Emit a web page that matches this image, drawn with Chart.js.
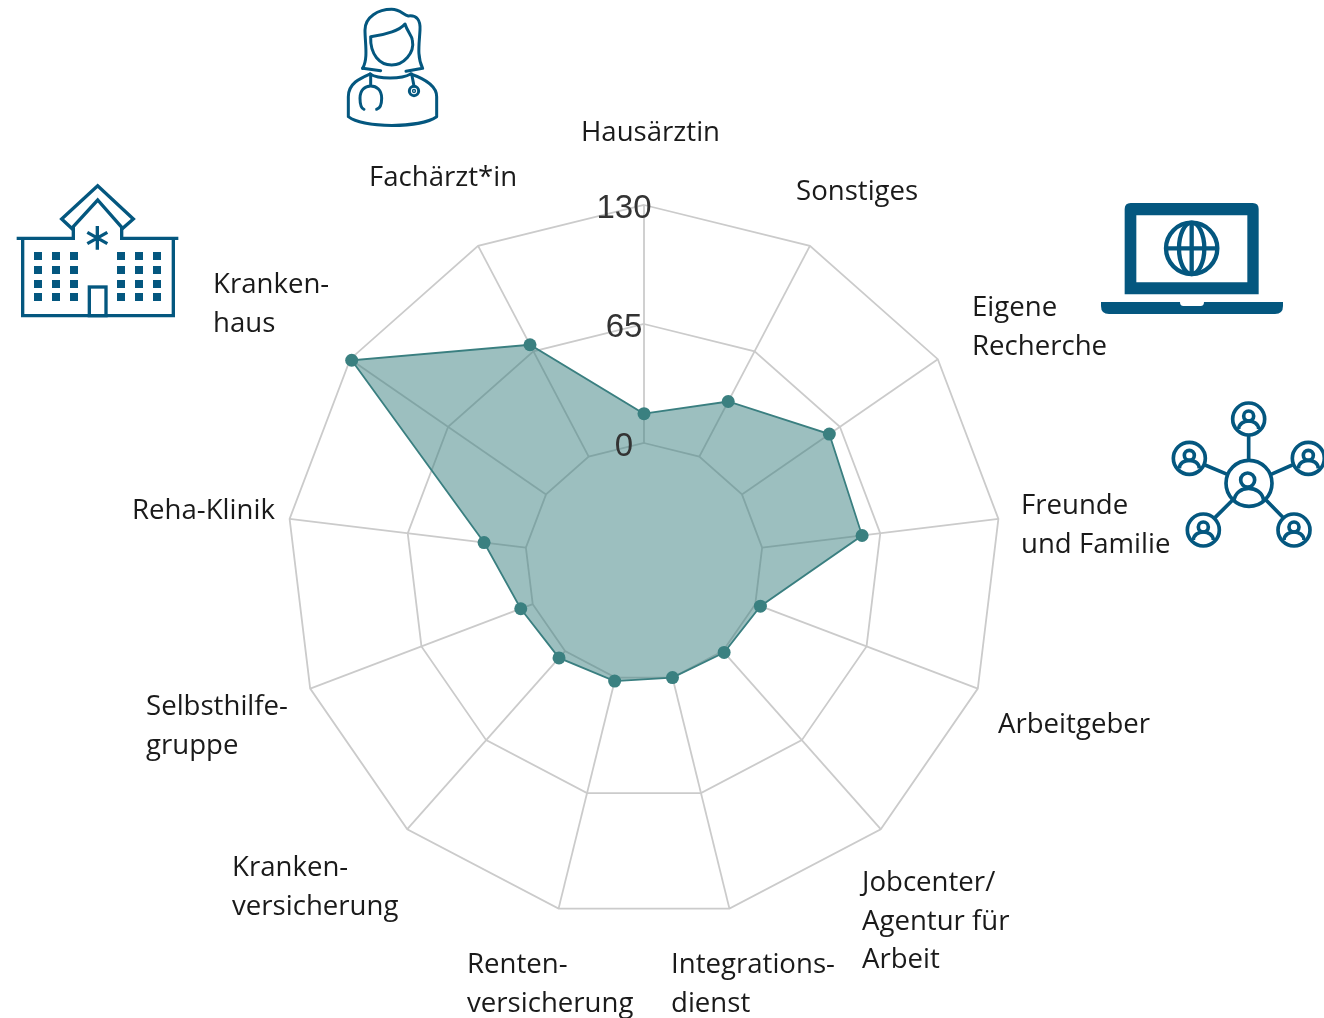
<!DOCTYPE html>
<html lang="de"><head><meta charset="utf-8">
<script src="https://cdn.jsdelivr.net/npm/chart.js@4/dist/chart.umd.min.js"></script>
<style>
html,body{margin:0;padding:0;background:#fff;width:1324px;height:1018px;overflow:hidden}
#wrap{position:relative;width:1324px;height:1018px}
canvas{position:absolute;left:0;top:0}
.lbl{position:absolute;font-family:"Open Sans",sans-serif;font-size:27.6px;line-height:38.5px;color:#1a1a1a;white-space:pre}
svg{position:absolute;overflow:visible}
</style></head><body>
<div id="wrap">
<canvas id="c" width="1324" height="1018"></canvas>

<svg style="left:320px;top:0" width="140" height="135" viewBox="0 0 420 405" fill="none" stroke="#04577f" stroke-width="9" stroke-linecap="round" stroke-linejoin="round">
<path d="M128 205C145 175 135 130 135 90C135 50 175 28 215 28C240 28 250 45 265 48C290 45 302 60 300 90C298 130 290 170 308 205L258 214"/>
<path d="M128 205L182 212"/>
<path d="M152 110C200 105 240 90 255 72C262 95 275 105 277 120C285 160 250 195 215 195C180 195 150 165 152 110Z"/>
<path d="M150 222C175 238 245 238 272 222"/>
<path d="M150 222C120 235 85 250 85 290L85 350C130 385 300 385 350 350L350 290C350 255 310 235 272 222"/>
<path d="M152 222L152 258M132 328C122 325 120 310 120 295C120 270 135 258 152 258C170 258 185 270 185 295C185 310 183 325 170 328"/>
<path d="M275 222L282 258"/><circle cx="282" cy="273" r="14"/><circle cx="282" cy="273" r="2"/>
</svg>

<svg style="left:0;top:175px" width="190" height="150" viewBox="0 0 570 450" fill="none" stroke="#04577f" stroke-width="10">
<path d="M185 132L293 32L400 132L368 160L293 75L215 160Z"/>
<path d="M220 155V190H50M365 155V190H535"/>
<path d="M68 190V422H520V190"/>
<rect x="268" y="336" width="50" height="86"/>
<path d="M292 153V224M262 172L322 206M322 172L262 206"/>
<g fill="#04577f" stroke="none">
<rect x="102" y="231" width="24" height="24"/><rect x="156" y="231" width="24" height="24"/><rect x="210" y="231" width="24" height="24"/><rect x="351" y="231" width="24" height="24"/><rect x="405" y="231" width="24" height="24"/><rect x="459" y="231" width="24" height="24"/>
<rect x="102" y="273" width="24" height="24"/><rect x="156" y="273" width="24" height="24"/><rect x="210" y="273" width="24" height="24"/><rect x="351" y="273" width="24" height="24"/><rect x="405" y="273" width="24" height="24"/><rect x="459" y="273" width="24" height="24"/>
<rect x="102" y="315" width="24" height="24"/><rect x="156" y="315" width="24" height="24"/><rect x="210" y="315" width="24" height="24"/><rect x="351" y="315" width="24" height="24"/><rect x="405" y="315" width="24" height="24"/><rect x="459" y="315" width="24" height="24"/>
<rect x="102" y="354" width="24" height="24"/><rect x="156" y="354" width="24" height="24"/><rect x="210" y="354" width="24" height="24"/><rect x="351" y="354" width="24" height="24"/><rect x="405" y="354" width="24" height="24"/><rect x="459" y="354" width="24" height="24"/>
</g>
</svg>

<svg style="left:1090px;top:195px" width="200" height="130" viewBox="0 0 600 390">
<path fill="#04577f" fill-rule="evenodd" d="M122 24H488Q506 24 506 42V298H104V42Q104 24 122 24ZM139 61V262H472V61Z"/>
<path fill="#04577f" d="M33 321H270Q270 333 280 333H332Q342 333 342 321H579V333Q579 357 555 357H57Q33 357 33 333Z"/>
<g fill="none" stroke="#04577f" stroke-width="13">
<circle cx="305" cy="160" r="77"/><ellipse cx="305" cy="160" rx="38" ry="77"/><path d="M305 83V237M228 160H382"/>
</g>
</svg>

<svg style="left:1165px;top:395px" width="159" height="160" viewBox="0 0 477 480" fill="none" stroke="#04577f" stroke-width="11">
<defs><g id="p"><circle r="48"/><circle cy="-9" r="15"/><path d="M-30 30C-28 -2 28 -2 30 30"/></g></defs>
<circle cx="252" cy="265" r="69"/><circle cx="248" cy="255" r="21"/><path d="M207 318C212 268 288 268 296 316"/>
<use href="#p" x="251" y="72"/><use href="#p" x="73" y="190"/><use href="#p" x="430" y="190"/><use href="#p" x="115" y="405"/><use href="#p" x="387" y="405"/>
<path d="M251 120V197M120 210L187 238M318 238L382 210M150 368L203 315M355 368L303 315"/>
</svg>
</div>
<script>
const categories = ["Hausärztin","Sonstiges","Eigene Recherche","Freunde und Familie","Arbeitgeber","Jobcenter/ Agentur für Arbeit","Integrationsdienst","Rentenversicherung","Krankenversicherung","Selbsthilfegruppe","Reha-Klinik","Krankenhaus","Fachärzt*in"];
const values = [16,34,58,55,3,1,0,2,5,7,23,129,69];
const tickLabels = [0,65,130];
const axisMin = -65, axisMax = 130, axisStep = 65;
const labelLines = [["Hausärztin"],["Sonstiges"],["Eigene","Recherche"],["Freunde","und Familie"],["Arbeitgeber"],["Jobcenter/","Agentur für","Arbeit"],["Integrations-","dienst"],["Renten-","versicherung"],["Kranken-","versicherung"],["Selbsthilfe-","gruppe"],["Reha-Klinik"],["Kranken-","haus"],["Fachärzt*in"]];
const labelAnchors = [[581,111],[796,170],[972,286],[1021,484],[998,703],[862,861],[671,943],[467,943],[232,846],[146,685],[132,489],[213,263],[369,156]];

labelLines.forEach((lines,i)=>{
  const d=document.createElement('div');d.className='lbl';
  d.style.left=labelAnchors[i][0]+'px';d.style.top=labelAnchors[i][1]+'px';
  d.textContent=lines.join('\n');document.getElementById('wrap').appendChild(d);
});

const spokes = {id:'spokes',beforeDatasetsDraw(chart){
  const s=chart.scales.r,c=chart.ctx;c.save();c.strokeStyle='#cbcbcb';c.lineWidth=1.8;
  categories.forEach((_,i)=>{
    const a=s.getPointPositionForValue(i,0),b=s.getPointPositionForValue(i,axisMax);
    c.beginPath();c.moveTo(a.x,a.y);c.lineTo(b.x,b.y);c.stroke();
  });c.restore();
}};
const tickText = {id:'tickText',afterDatasetsDraw(chart){
  const s=chart.scales.r,c=chart.ctx;c.save();
  c.font='33px "Liberation Sans",Arial,sans-serif';c.fillStyle='#333';c.textAlign='center';c.textBaseline='middle';
  tickLabels.forEach(v=>{
    const p=s.getPointPositionForValue(0,v);
    c.fillText(String(v),p.x-20,p.y+4);
  });c.restore();
}};
new Chart(document.getElementById('c'),{
  type:'radar',
  data:{labels:categories,datasets:[{data:values,borderColor:'#3a7f80',borderWidth:1.8,backgroundColor:'rgba(58,127,128,0.5)',fill:'start',pointBackgroundColor:'#3a8080',pointBorderColor:'#3a8080',pointRadius:6.5,pointBorderWidth:0,tension:0}]},
  options:{responsive:false,animation:false,events:[],
    layout:{padding:{left:287,right:322,top:204,bottom:98}},
    plugins:{legend:{display:false},tooltip:{enabled:false},title:{display:false}},
    scales:{r:{min:axisMin,max:axisMax,beginAtZero:false,
      ticks:{stepSize:axisStep,display:false},
      pointLabels:{display:false},
      angleLines:{display:false},
      grid:{color:'#cbcbcb',lineWidth:1.8,circular:false}}}
  },
  plugins:[spokes,tickText]
});
</script>
</body></html>
